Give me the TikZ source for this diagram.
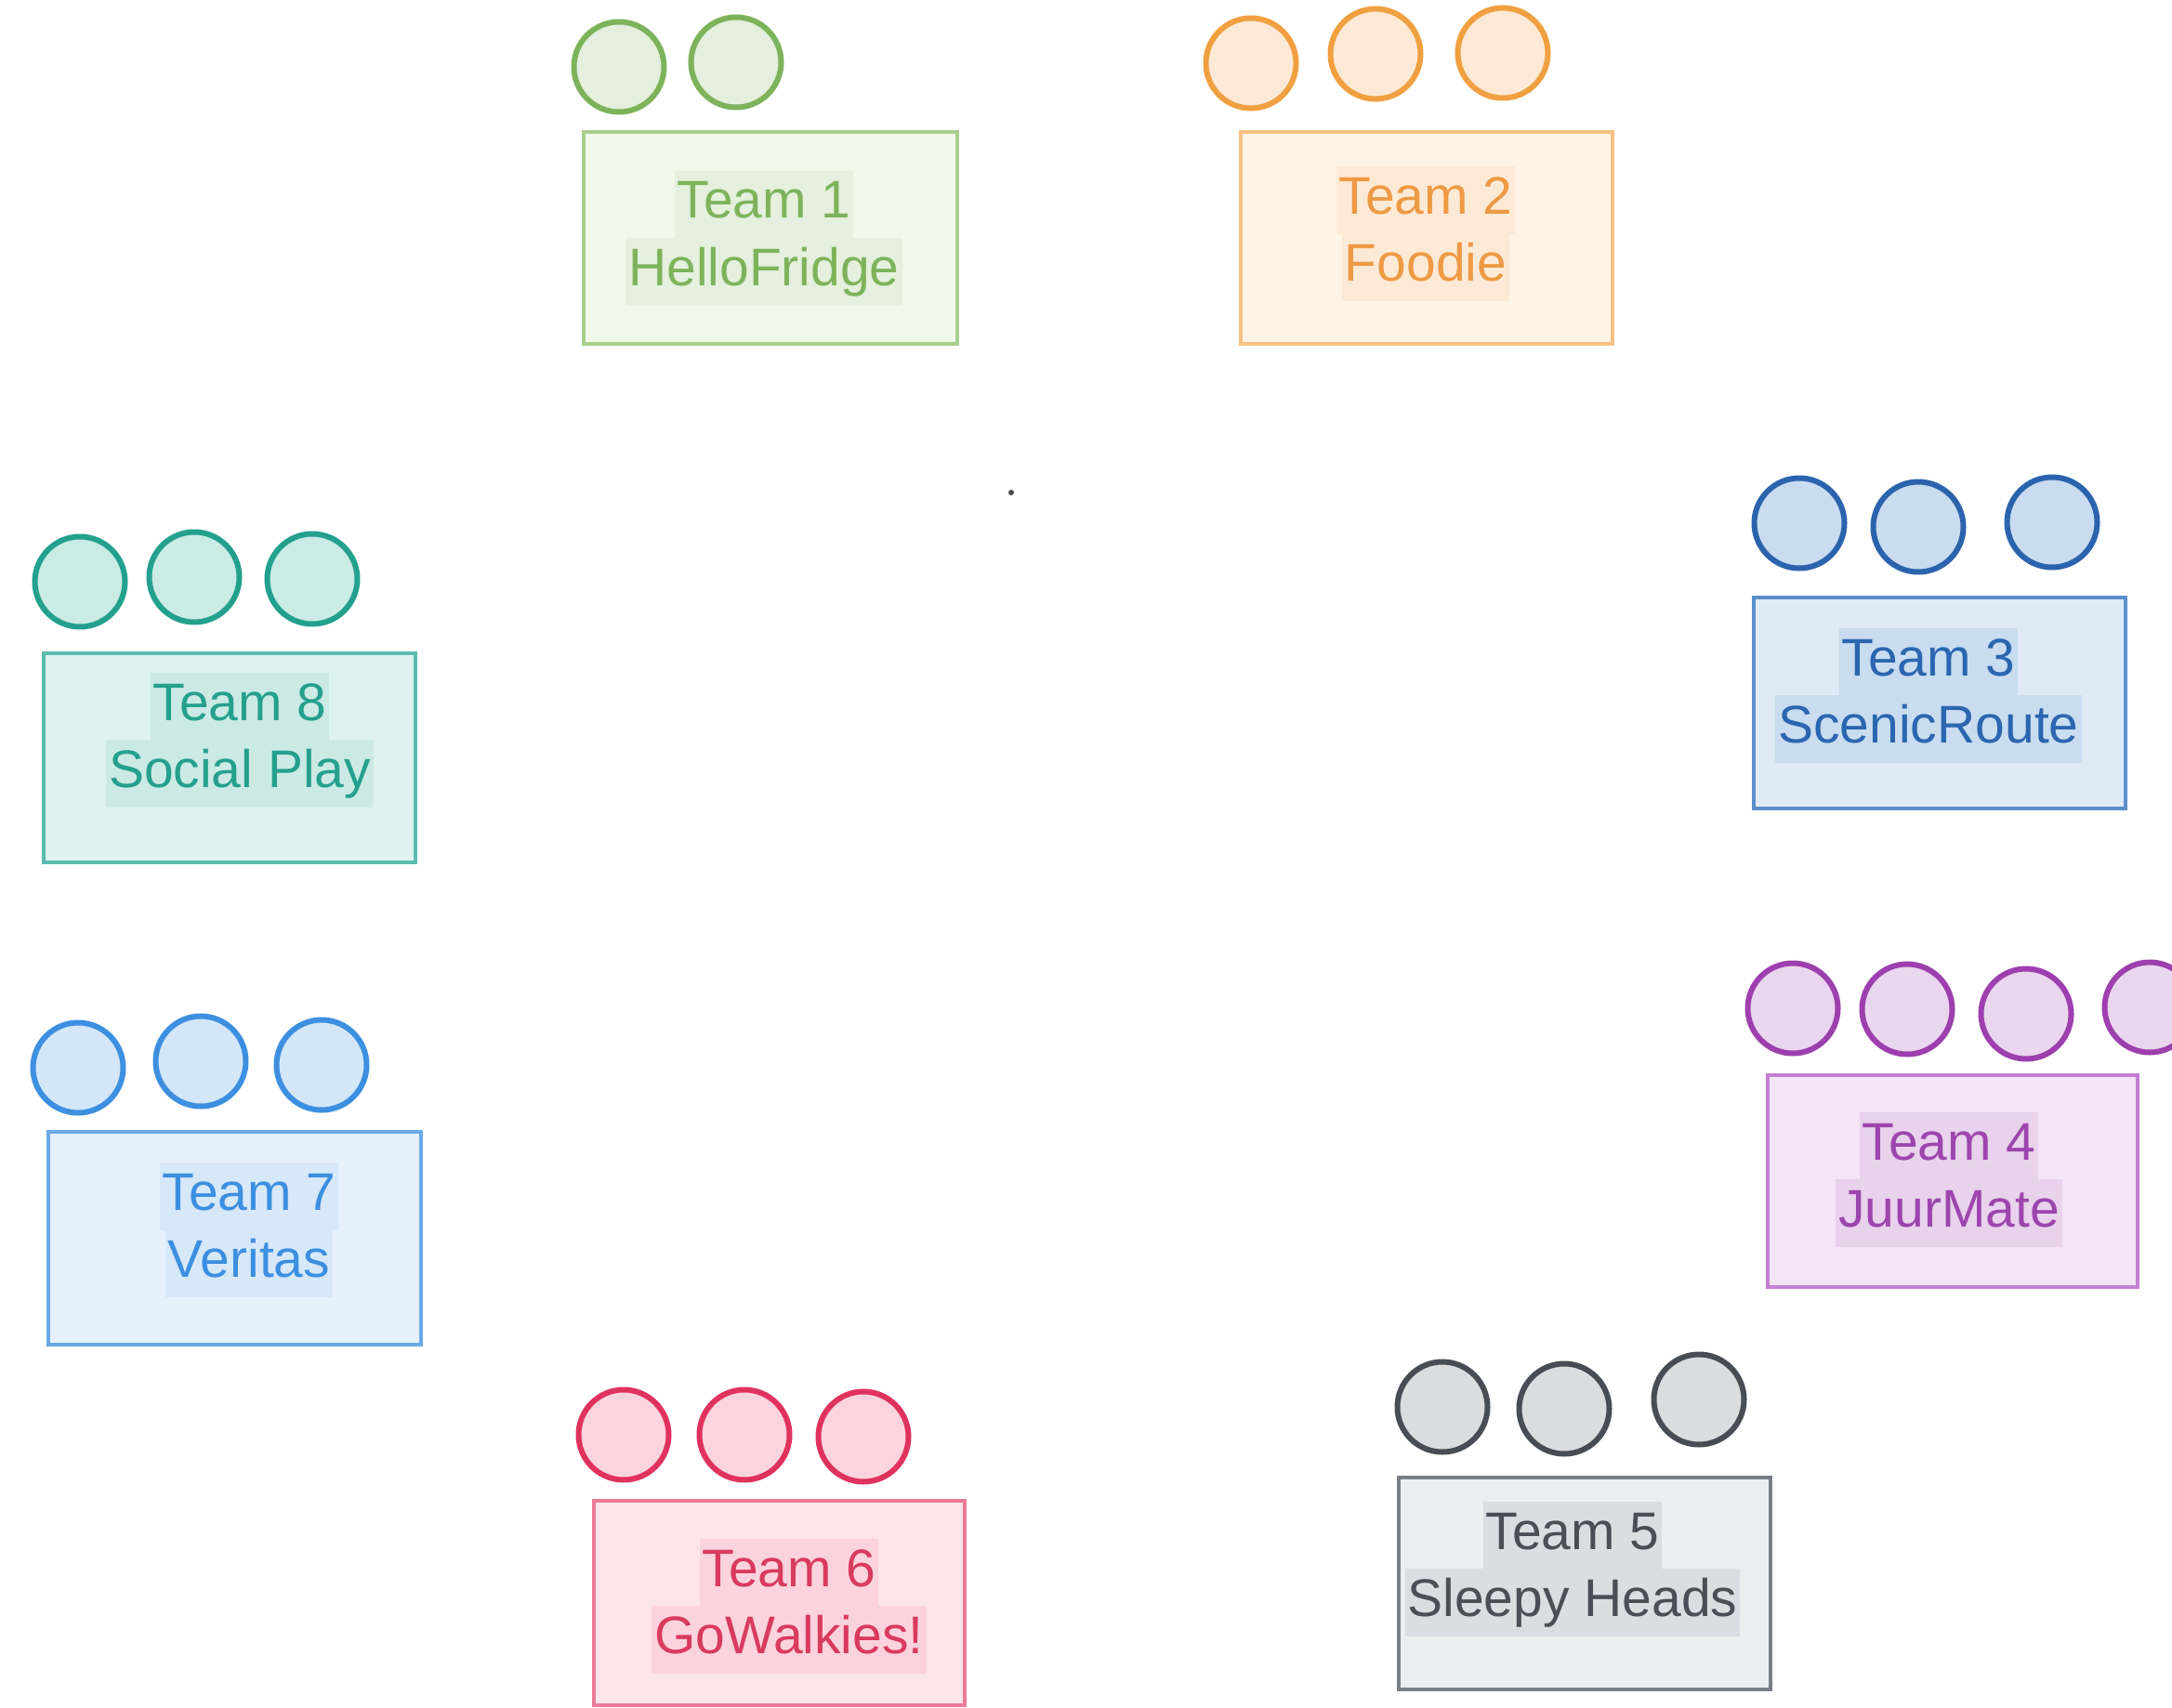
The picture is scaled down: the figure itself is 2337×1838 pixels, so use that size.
\documentclass[tikz,border=0pt]{standalone}
\usepackage{fontspec}
\setmainfont{Liberation Sans}
\definecolor{gC}{HTML}{7DB35B}\definecolor{gB}{HTML}{A6D08C}\definecolor{gF}{HTML}{EFF8EA}\definecolor{gK}{HTML}{E4EFDE}\definecolor{gH}{HTML}{E5F0DE}\definecolor{gT}{HTML}{7DB45B}
\definecolor{oC}{HTML}{F0A040}\definecolor{oB}{HTML}{F7C184}\definecolor{oF}{HTML}{FFF3E5}\definecolor{oK}{HTML}{FDE9D6}\definecolor{oH}{HTML}{FDEAD6}\definecolor{oT}{HTML}{EE9A45}
\definecolor{bC}{HTML}{2B63AD}\definecolor{bB}{HTML}{5B8FCC}\definecolor{bF}{HTML}{DFEAF6}\definecolor{bK}{HTML}{C9DCF0}\definecolor{bH}{HTML}{C9DCF0}\definecolor{bT}{HTML}{2B66B0}
\definecolor{pC}{HTML}{9D3FAE}\definecolor{pB}{HTML}{C47FD3}\definecolor{pF}{HTML}{F3E5F6}\definecolor{pK}{HTML}{EAD6EE}\definecolor{pH}{HTML}{E8D2EC}\definecolor{pT}{HTML}{9D45AE}
\definecolor{kC}{HTML}{474C55}\definecolor{kB}{HTML}{7A7F87}\definecolor{kF}{HTML}{ECEEF0}\definecolor{kK}{HTML}{DADCE0}\definecolor{kH}{HTML}{DADDE2}\definecolor{kT}{HTML}{4A4E57}
\definecolor{rC}{HTML}{E0325E}\definecolor{rB}{HTML}{EC7B95}\definecolor{rF}{HTML}{FDE5EA}\definecolor{rK}{HTML}{FBD4DD}\definecolor{rH}{HTML}{FBD3DC}\definecolor{rT}{HTML}{D93A5F}
\definecolor{lC}{HTML}{3D8FE0}\definecolor{lB}{HTML}{6AAAE8}\definecolor{lF}{HTML}{E6F1FC}\definecolor{lK}{HTML}{D4E7F9}\definecolor{lH}{HTML}{D7E8F9}\definecolor{lT}{HTML}{3C8FE0}
\definecolor{tC}{HTML}{23A08E}\definecolor{tB}{HTML}{5BBCAE}\definecolor{tF}{HTML}{DEF3F0}\definecolor{tK}{HTML}{CBEBE6}\definecolor{tH}{HTML}{CCEAE5}\definecolor{tT}{HTML}{25A08F}
\tikzset{
  teambox/.style={draw=#1B, fill=#1F, line width=4pt, rectangle, inner sep=0pt},
  member/.style={draw=#1C, fill=#1K, line width=6pt, circle, minimum size=97pt, inner sep=0pt},
  label/.style={fill=#1H, text=#1T, anchor=base, inner xsep=3pt, inner ysep=0pt,
    text height=51pt, text depth=22pt, font=\fontsize{57}{72}\selectfont},
}
\begin{document}
\begin{tikzpicture}[x=1pt,y=-1pt]
\useasboundingbox (0,0) rectangle (2337,1838);
% Team 1
\node[teambox=g, minimum width=402pt, minimum height=227pt] (b1) at (829,256) {};
\node[member=g] (c1a) at (666,72) {};
\node[member=g] (c1b) at (792,67) {};
\node[label=g] (t1a) at (822,235) {Team 1};
\node[label=g] (t1b) at (822,307) {HelloFridge};
% Team 2
\node[teambox=o, minimum width=400pt, minimum height=228pt] (b2) at (1535,256) {};
\node[member=o] (c2a) at (1346,68) {};
\node[member=o] (c2b) at (1480,58) {};
\node[member=o] (c2c) at (1617,57) {};
\node[label=o] (t2a) at (1534,230) {Team 2};
\node[label=o] (t2b) at (1534,302) {Foodie};
% Team 3
\node[teambox=b, minimum width=400pt, minimum height=227pt] (b3) at (2087,756) {};
\node[member=b] (c3a) at (1936,563) {};
\node[member=b] (c3b) at (2064,567) {};
\node[member=b] (c3c) at (2208,562) {};
\node[label=b] (t3a) at (2075,727) {Team 3};
\node[label=b] (t3b) at (2075,799) {ScenicRoute};
% Team 4
\node[teambox=p, minimum width=398pt, minimum height=228pt] (b4) at (2101,1271) {};
\node[member=p] (c4a) at (1929,1085) {};
\node[member=p] (c4b) at (2052,1086) {};
\node[member=p] (c4c) at (2180,1091) {};
\node[member=p] (c4d) at (2313,1084) {};
\node[label=p] (t4a) at (2097,1248) {Team 4};
\node[label=p] (t4b) at (2097,1320) {JuurMate};
% Team 5
\node[teambox=k, minimum width=400pt, minimum height=228pt] (b5) at (1705,1704) {};
\node[member=k] (c5a) at (1552,1514) {};
\node[member=k] (c5b) at (1683,1516) {};
\node[member=k] (c5c) at (1828,1506) {};
\node[label=k] (t5a) at (1692,1667) {Team 5};
\node[label=k] (t5b) at (1692,1739) {Sleepy Heads};
% Team 6
\node[teambox=r, minimum width=399pt, minimum height=220pt] (b6) at (838,1725) {};
\node[member=r] (c6a) at (671,1544) {};
\node[member=r] (c6b) at (801,1544) {};
\node[member=r] (c6c) at (929,1546) {};
\node[label=r] (t6a) at (849,1707) {Team 6};
\node[label=r] (t6b) at (849,1779) {GoWalkies!};
% Team 7
\node[teambox=l, minimum width=401pt, minimum height=229pt] (b7) at (252,1332) {};
\node[member=l] (c7a) at (84,1149) {};
\node[member=l] (c7b) at (216,1142) {};
\node[member=l] (c7c) at (346,1146) {};
\node[label=l] (t7a) at (268,1302) {Team 7};
\node[label=l] (t7b) at (268,1374) {Veritas};
% Team 8
\node[teambox=t, minimum width=400pt, minimum height=225pt] (b8) at (247,815) {};
\node[member=t] (c8a) at (86,626) {};
\node[member=t] (c8b) at (209,621) {};
\node[member=t] (c8c) at (336,623) {};
\node[label=t] (t8a) at (258,775) {Team 8};
\node[label=t] (t8b) at (258,847) {Social Play};
% stray dot
\node[circle, fill=black!70, inner sep=0pt, minimum size=6pt] (dot) at (1088,530) {};
\end{tikzpicture}
\end{document}
